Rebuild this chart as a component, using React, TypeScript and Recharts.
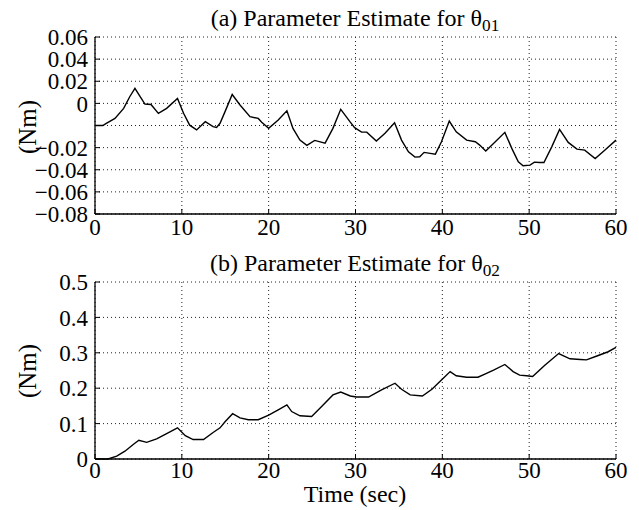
import React from 'react';
import { LineChart, Line, XAxis, YAxis, CartesianGrid } from 'recharts';

const timeA = [0, 0.9, 1.3, 2.3, 3.3, 4.0, 4.6, 5.2, 5.75, 6.45, 7.3, 8.25, 9.5, 10.2, 10.9, 11.7, 12.7, 13.6, 14.0, 14.4, 15.0, 15.8, 16.7, 17.85, 18.8, 19.2, 20.0, 21.1, 22.1, 22.8, 23.6, 24.4, 25.3, 26.5, 27.4, 28.3, 29.4, 29.9, 30.7, 31.3, 32.4, 33.4, 34.5, 35.3, 36.1, 36.85, 37.4, 37.9, 38.6, 39.2, 39.9, 40.8, 41.6, 42.8, 43.8, 44.3, 45.0, 46.1, 47.2, 48.0, 48.75, 49.3, 50.1, 50.6, 51.2, 51.7, 52.6, 53.5, 54.5, 55.5, 56.4, 57.6, 58.7, 60];
const thetaA = [-0.02, -0.02, -0.018, -0.0136, -0.0045, 0.006, 0.0136, 0.006, -0.0006, -0.001, -0.009, -0.0045, 0.0045, -0.009, -0.0197, -0.024, -0.0166, -0.021, -0.0217, -0.018, -0.007, 0.008, -0.0015, -0.012, -0.0136, -0.017, -0.0226, -0.015, -0.0067, -0.0226, -0.0332, -0.038, -0.0335, -0.036, -0.0226, -0.0054, -0.017, -0.022, -0.026, -0.026, -0.034, -0.027, -0.0175, -0.0332, -0.0438, -0.0486, -0.0483, -0.0443, -0.0452, -0.0459, -0.0347, -0.016, -0.0257, -0.0332, -0.0347, -0.0377, -0.043, -0.0347, -0.0262, -0.0407, -0.0528, -0.0564, -0.0558, -0.0531, -0.0534, -0.0534, -0.0393, -0.0235, -0.0353, -0.0414, -0.0423, -0.0498, -0.0423, -0.0332];

const timeB = [0, 1.5, 2.5, 3.45, 4.4, 5.05, 5.95, 7.1, 8.25, 9.5, 10.4, 11.3, 12.5, 13.6, 14.4, 15.0, 15.85, 16.7, 17.65, 18.8, 20.0, 21.1, 22.1, 22.65, 23.6, 24.95, 26.1, 27.4, 28.3, 29.4, 30.1, 31.5, 33.0, 34.55, 35.3, 36.3, 37.7, 38.8, 39.9, 40.9, 41.6, 42.8, 44.1, 44.9, 45.9, 47.2, 48.15, 48.9, 49.7, 50.4, 51.8, 53.4, 54.7, 55.9, 56.6, 57.8, 59.1, 60];
const thetaB = [0, 0, 0.008, 0.022, 0.041, 0.053, 0.047, 0.057, 0.072, 0.088, 0.066, 0.055, 0.055, 0.075, 0.088, 0.106, 0.128, 0.116, 0.111, 0.111, 0.124, 0.139, 0.153, 0.134, 0.122, 0.12, 0.148, 0.181, 0.189, 0.178, 0.175, 0.175, 0.195, 0.214, 0.197, 0.181, 0.178, 0.197, 0.223, 0.247, 0.235, 0.231, 0.231, 0.24, 0.251, 0.267, 0.247, 0.237, 0.235, 0.233, 0.265, 0.298, 0.283, 0.281, 0.28, 0.291, 0.303, 0.315];

const xTicks = [0, 10, 20, 30, 40, 50, 60];
const xTickLabels = ['0', '10', '20', '30', '40', '50', '60'];
const yTicksA = [-0.1, -0.08, -0.06, -0.04, -0.02, 0, 0.02, 0.04, 0.06];
const yTickLabelsA = ['\u22120.08', '\u22120.06', '\u22120.04', '\u22120.02', '', '0', '0.02', '0.04', '0.06'];
const yTicksB = [0, 0.1, 0.2, 0.3, 0.4, 0.5];
const yTickLabelsB = ['0', '0.1', '0.2', '0.3', '0.4', '0.5'];

const FONT = '"Liberation Serif", "Times New Roman", serif';
const tickStyle = { fill: '#000', fontSize: 23, fontFamily: FONT };

function labelFor(ticks: number[], labels: string[]) {
  return (v: number) => {
    let best = 0;
    for (let i = 0; i < ticks.length; i++) {
      if (Math.abs(ticks[i] - v) < Math.abs(ticks[best] - v)) best = i;
    }
    return labels[best];
  };
}

function Panel({ time, theta, yTicks, yLabels, xMargin }: { time: number[]; theta: number[]; yTicks: number[]; yLabels: string[]; xMargin: number }) {
  const data = time.map((t, i) => ({ t, v: theta[i] }));
  const dom: [number, number] = [yTicks[0], yTicks[yTicks.length - 1]];
  const axisLine = { stroke: '#000', strokeWidth: 1.3 };
  const tickLine = { stroke: '#000', strokeWidth: 1 };
  return (
    <LineChart width={639} height={250} data={data} margin={{ top: 37, right: 23, bottom: 6, left: 0 }}>
      <CartesianGrid stroke="#222" strokeDasharray="1 3" strokeWidth={1} />
      <XAxis dataKey="t" type="number" domain={[0, 60]} ticks={xTicks} height={30}
        tickFormatter={labelFor(xTicks, xTickLabels)} tick={tickStyle}
        axisLine={axisLine} tickLine={tickLine} tickSize={-5} tickMargin={xMargin} interval={0} />
      <XAxis xAxisId="top" orientation="top" dataKey="t" type="number" domain={[0, 60]} ticks={xTicks} height={0}
        tick={false} axisLine={axisLine} tickLine={tickLine} tickSize={-5} interval={0} />
      <YAxis type="number" domain={dom} ticks={yTicks} width={95} interval={0}
        tickFormatter={labelFor(yTicks, yLabels)} tick={tickStyle}
        axisLine={axisLine} tickLine={tickLine} tickSize={-5} tickMargin={12} />
      <YAxis yAxisId="right" orientation="right" type="number" domain={dom} ticks={yTicks} width={0} interval={0}
        tick={false} axisLine={axisLine} tickLine={tickLine} tickSize={-5} />
      <Line type="linear" dataKey="v" stroke="#000" strokeWidth={1.4} dot={false} isAnimationActive={false} />
    </LineChart>
  );
}

const textBase: React.CSSProperties = {
  position: 'absolute', fontFamily: FONT, color: '#000', whiteSpace: 'nowrap',
};

function Title({ letter, sub, cy }: { letter: string; sub: string; cy: number }) {
  return (
    <div style={{ ...textBase, fontSize: 24, lineHeight: '24px', left: 355, top: cy - 12, transform: 'translateX(-50%)' }}>
      ({letter}) Parameter Estimate for θ<span style={{ fontSize: '0.72em', position: 'relative', top: '0.3em' }}>{sub}</span>
    </div>
  );
}

function YLabel({ cy }: { cy: number }) {
  return (
    <div style={{ ...textBase, fontSize: 25, lineHeight: '25px', left: 27, top: cy, transform: 'translate(-50%, -50%) rotate(-90deg)' }}>(Nm)</div>
  );
}

export default function App() {
  return (
    <div style={{ position: 'absolute', left: 0, top: 0, width: 639, height: 510, background: '#fff', overflow: 'hidden' }}>
      <div style={{ position: 'absolute', left: 0, top: 0 }}>
        <Panel time={timeA} theta={thetaA} yTicks={yTicksA} yLabels={yTickLabelsA} xMargin={10} />
      </div>
      <div style={{ position: 'absolute', left: 0, top: 245 }}>
        <Panel time={timeB} theta={thetaB} yTicks={yTicksB} yLabels={yTickLabelsB} xMargin={8} />
      </div>
      <Title letter="a" sub="01" cy={18} />
      <Title letter="b" sub="02" cy={263} />
      <YLabel cy={127} />
      <YLabel cy={371} />
      <div style={{ ...textBase, fontSize: 24, lineHeight: '16px', left: 355, top: 494 - 8, transform: 'translateX(-50%)' }}>Time (sec)</div>
    </div>
  );
}
